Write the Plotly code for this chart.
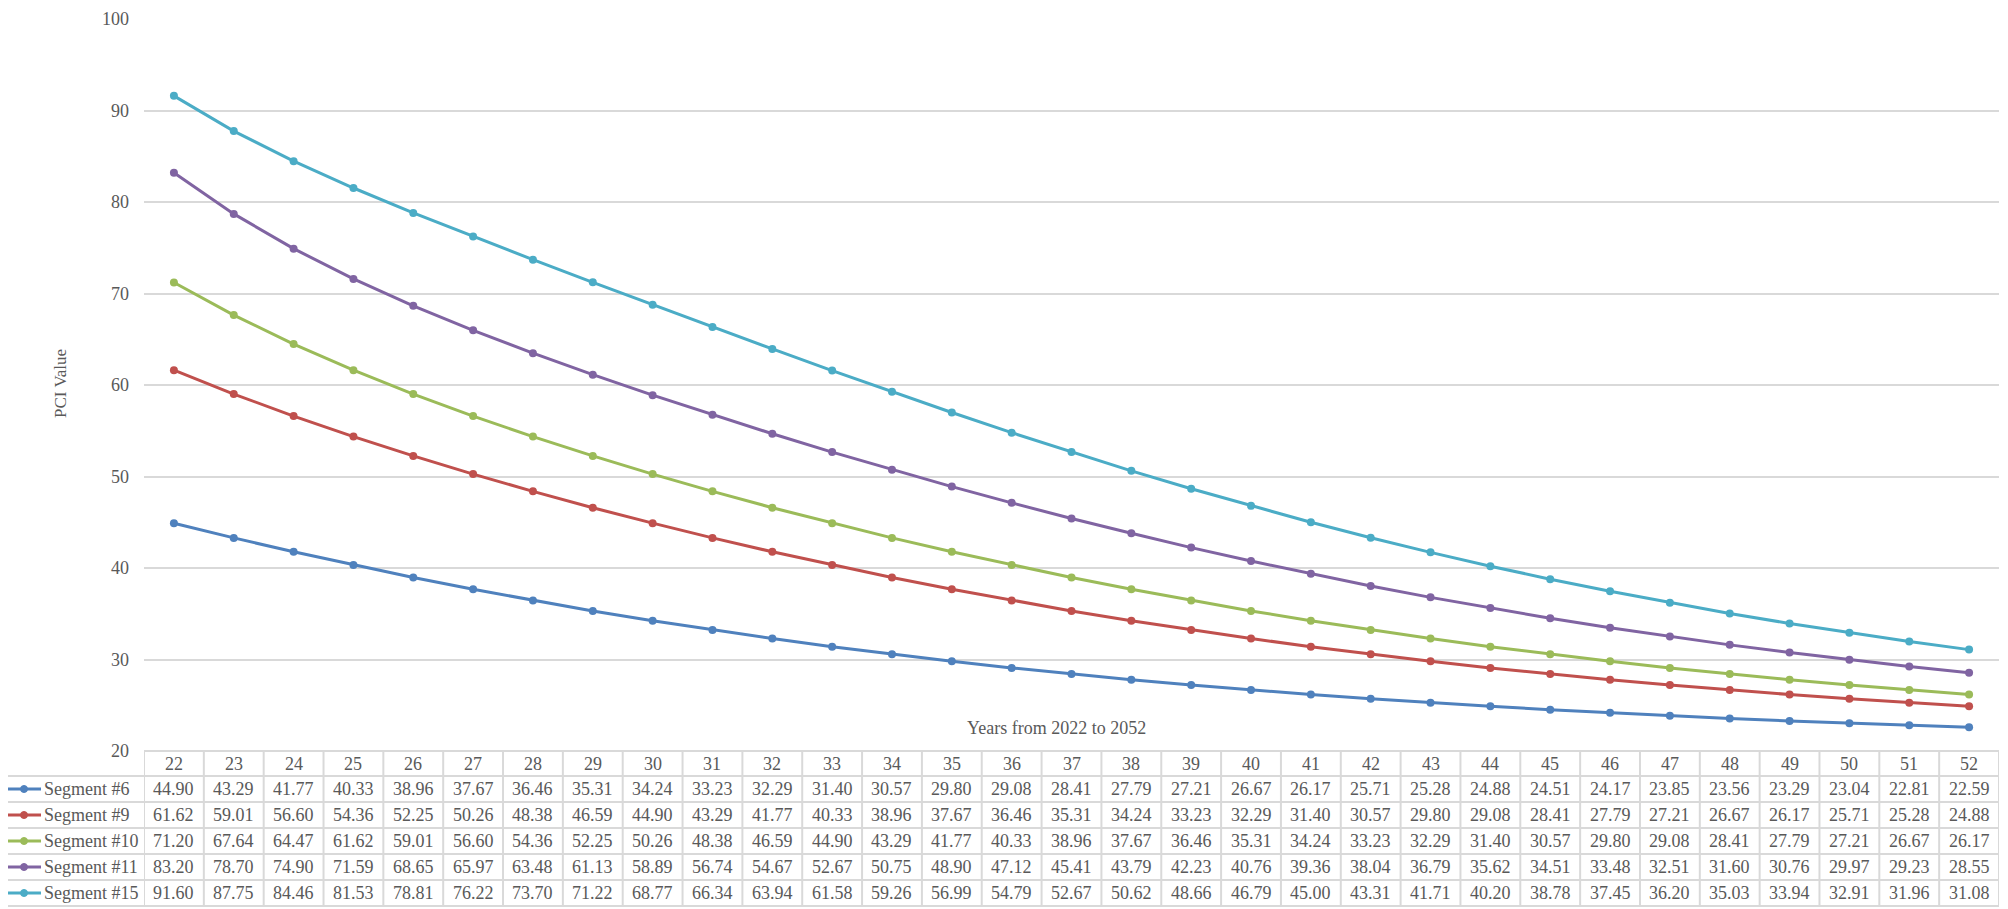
import plotly.graph_objects as go

years = list(range(22, 53))

segment_names = ["Segment #6", "Segment #9", "Segment #10", "Segment #11", "Segment #15"]
segment_colors = ["#4F81BD", "#C0504D", "#9BBB59", "#8064A2", "#4BACC6"]

seg6 = [44.90, 43.29, 41.77, 40.33, 38.96, 37.67, 36.46, 35.31, 34.24, 33.23, 32.29,
        31.40, 30.57, 29.80, 29.08, 28.41, 27.79, 27.21, 26.67, 26.17, 25.71, 25.28,
        24.88, 24.51, 24.17, 23.85, 23.56, 23.29, 23.04, 22.81, 22.59]
seg9 = [61.62, 59.01, 56.60, 54.36, 52.25, 50.26, 48.38, 46.59, 44.90, 43.29, 41.77,
        40.33, 38.96, 37.67, 36.46, 35.31, 34.24, 33.23, 32.29, 31.40, 30.57, 29.80,
        29.08, 28.41, 27.79, 27.21, 26.67, 26.17, 25.71, 25.28, 24.88]
seg10 = [71.20, 67.64, 64.47, 61.62, 59.01, 56.60, 54.36, 52.25, 50.26, 48.38, 46.59,
         44.90, 43.29, 41.77, 40.33, 38.96, 37.67, 36.46, 35.31, 34.24, 33.23, 32.29,
         31.40, 30.57, 29.80, 29.08, 28.41, 27.79, 27.21, 26.67, 26.17]
seg11 = [83.20, 78.70, 74.90, 71.59, 68.65, 65.97, 63.48, 61.13, 58.89, 56.74, 54.67,
         52.67, 50.75, 48.90, 47.12, 45.41, 43.79, 42.23, 40.76, 39.36, 38.04, 36.79,
         35.62, 34.51, 33.48, 32.51, 31.60, 30.76, 29.97, 29.23, 28.55]
seg15 = [91.60, 87.75, 84.46, 81.53, 78.81, 76.22, 73.70, 71.22, 68.77, 66.34, 63.94,
         61.58, 59.26, 56.99, 54.79, 52.67, 50.62, 48.66, 46.79, 45.00, 43.31, 41.71,
         40.20, 38.78, 37.45, 36.20, 35.03, 33.94, 32.91, 31.96, 31.08]

series = [seg6, seg9, seg10, seg11, seg15]

# page geometry in pixels (the figure sits 8px in from the page corner)
PAGE_W, PAGE_H = 2008, 909
OFF = 8
L, R, T, B = 144, 1999, 19, 751
ROW_EDGES = [751, 776, 802, 828, 854, 880, 906]
FONT = "Liberation Serif, Times New Roman, serif"
TXT = "#595959"
GRID = "#D9D9D9"


def px_x(x):
    return (x - L) / (R - L)


def px_y(y):
    return (B - y) / (B - T)


def label(x, y, text, xref="paper", **kw):
    d = dict(x=x, y=y, xref=xref, yref="paper", text=text, showarrow=False,
             xanchor="center", yanchor="middle",
             font=dict(family=FONT, size=18, color=TXT))
    d.update(kw)
    return d


fig = go.Figure()

for name, color, vals in zip(segment_names, segment_colors, series):
    fig.add_trace(go.Scatter(
        x=years, y=vals, name=name, mode="lines+markers",
        line=dict(color=color, width=3),
        marker=dict(color=color, size=8),
        showlegend=False,
    ))

shapes = []
annotations = []

# data table grid
x_lo, x_hi = years[0] - 0.5, years[-1] + 0.5
for i, ye in enumerate(ROW_EDGES):
    shapes.append(dict(type="line", xref="paper", yref="paper",
                       x0=px_x(L if i == 0 else 5), x1=1, y0=px_y(ye), y1=px_y(ye),
                       line=dict(color=GRID, width=2)))
for k in range(len(years) + 1):
    xv = x_lo + k
    shapes.append(dict(type="line", xref="x", yref="paper",
                       x0=xv, x1=xv, y0=px_y(ROW_EDGES[0]), y1=px_y(ROW_EDGES[-1]),
                       line=dict(color=GRID, width=2)))
shapes.append(dict(type="line", xref="paper", yref="paper",
                   x0=px_x(5), x1=px_x(5), y0=px_y(ROW_EDGES[1]), y1=px_y(ROW_EDGES[-1]),
                   line=dict(color=GRID, width=2)))

# header row: category labels
hy = px_y((ROW_EDGES[0] + ROW_EDGES[1]) / 2)
for yr in years:
    annotations.append(label(yr, hy, str(yr), xref="x"))

# value rows with legend keys
for r, (name, color, vals) in enumerate(zip(segment_names, segment_colors, series)):
    yc_px = (ROW_EDGES[r + 1] + ROW_EDGES[r + 2]) / 2
    yc = px_y(yc_px)
    for yr, v in zip(years, vals):
        annotations.append(label(yr, yc, f"{v:.2f}", xref="x"))
    shapes.append(dict(type="line", xref="paper", yref="paper",
                       x0=px_x(8), x1=px_x(41), y0=yc, y1=yc,
                       line=dict(color=color, width=3)))
    shapes.append(dict(type="circle", xref="paper", yref="paper",
                       x0=px_x(20.5), x1=px_x(27.5), y0=px_y(yc_px + 3.5), y1=px_y(yc_px - 3.5),
                       fillcolor=color, line=dict(color=color, width=1)))
    annotations.append(label(px_x(42), yc, name, xanchor="left"))

# axis titles
annotations.append(label(px_x(1056), px_y(728), "Years from 2022 to 2052"))
annotations.append(label(px_x(60), px_y(384), "PCI Value", textangle=-90,
                         font=dict(family=FONT, size=17, color=TXT)))

fig.update_layout(
    width=PAGE_W - OFF, height=PAGE_H - OFF,
    margin=dict(l=L - OFF, r=PAGE_W - R, t=T - OFF, b=PAGE_H - B, autoexpand=False),
    paper_bgcolor="white", plot_bgcolor="white",
    shapes=shapes, annotations=annotations,
    showlegend=False,
)
fig.update_xaxes(range=[x_lo, x_hi], showticklabels=False, showgrid=False,
                 zeroline=False, showline=False, ticks="")
fig.update_yaxes(range=[20, 100], dtick=10, showgrid=True, gridcolor=GRID, gridwidth=1.5,
                 zeroline=False, showline=False, ticks="", ticklabelstandoff=14,
                 tickfont=dict(family=FONT, size=18, color=TXT))

fig.write_html("out.html")
